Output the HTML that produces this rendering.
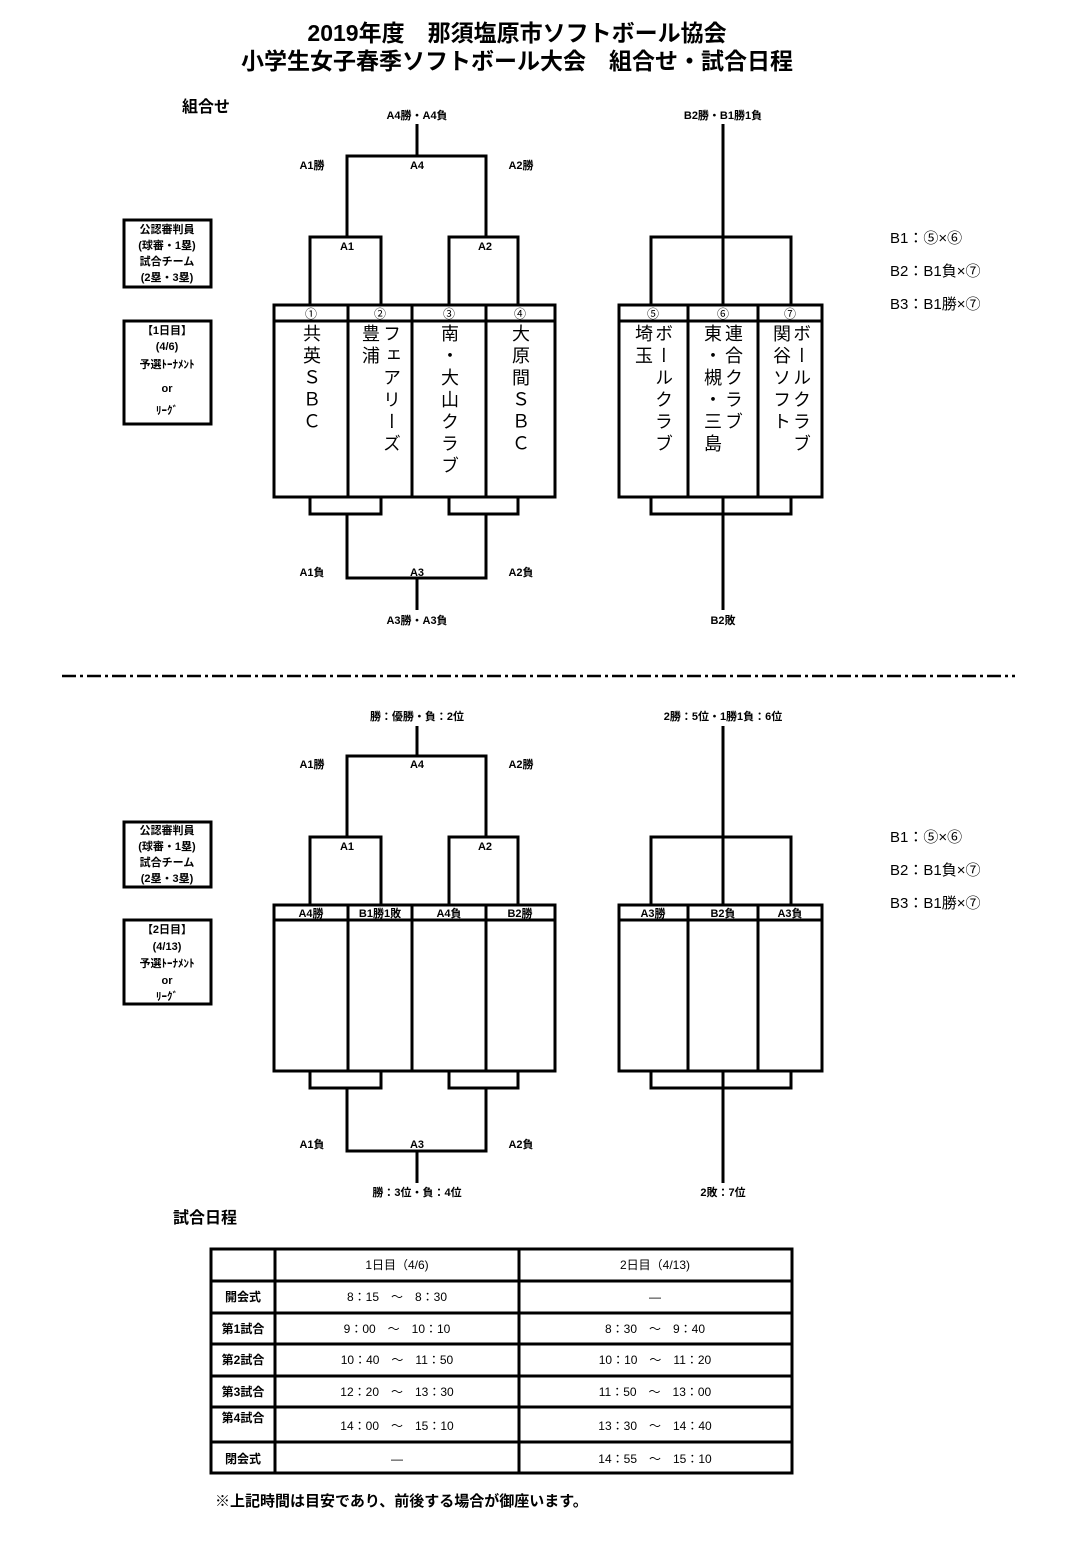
<!DOCTYPE html>
<html><head><meta charset="utf-8"><style>
body{margin:0;width:1080px;height:1547px;background:#fff;position:relative;overflow:hidden;font-family:"Liberation Sans","Noto Sans CJK JP",sans-serif;color:#000}
svg{position:absolute;left:0;top:0}
.v{position:absolute;writing-mode:vertical-rl;text-orientation:upright;font-size:18px;letter-spacing:4px;line-height:20px;font-family:"Liberation Sans","Noto Sans CJK JP",sans-serif}
</style></head><body>
<svg width="1080" height="1547" viewBox="0 0 1080 1547" font-family="Liberation Sans, Noto Sans CJK JP, sans-serif">
<g font-size="23" text-anchor="middle" font-weight="bold">
<text x="517" y="41">2019年度　那須塩原市ソフトボール協会</text>
<text x="517" y="69">小学生女子春季ソフトボール大会　組合せ・試合日程</text>
</g>
<text x="182" y="112" font-size="16" font-weight="bold">組合せ</text>
<text x="173" y="1223" font-size="16" font-weight="bold">試合日程</text>

<g stroke="#000" stroke-width="3" fill="none">
<path d="M417 124V156M347 237V156H486V237M310 305V237H381V305M449 305V237H518V305"/>
<rect x="274" y="305" width="281" height="192"/>
<path d="M274 321H555M348 305V497M412 305V497M486 305V497"/>
<path d="M310 497V514H381V497M449 497V514H518V497M347 514V578H486V514M417 578V610"/>
<path d="M723 124V305M651 305V237H791V305M723 497V610M651 497V514H791V497"/>
<rect x="619" y="305" width="203" height="192"/>
<path d="M619 321H822M688 305V497M758 305V497"/>
<rect x="124" y="220" width="87" height="67"/>
<rect x="124" y="321" width="87" height="103"/>
<rect x="124" y="822" width="87" height="65"/>
<rect x="124" y="920" width="87" height="84"/>
<path d="M417 726V756M347 837V756H486V837M310 905V837H381V905M449 905V837H518V905"/>
<rect x="274" y="905" width="281" height="166"/>
<path d="M274 920H555M348 905V1071M412 905V1071M486 905V1071"/>
<path d="M310 1071V1088H381V1071M449 1071V1088H518V1071M347 1088V1151H486V1088M417 1151V1183"/>
<path d="M723 726V905M651 905V837H791V905M723 1071V1183M651 1071V1088H791V1071"/>
<rect x="619" y="905" width="203" height="166"/>
<path d="M619 920H822M688 905V1071M758 905V1071"/>
<rect x="211" y="1249" width="581" height="224"/>
<path d="M275 1249V1473M519 1249V1473M211 1281H792M211 1313H792M211 1344H792M211 1376H792M211 1407H792M211 1442H792"/>
</g>
<path d="M62 676H1015" stroke="#000" stroke-width="2.5" stroke-dasharray="14 4 3 4"/>

<g font-size="11" text-anchor="middle" font-weight="bold">
<text x="417" y="119">A4勝・A4負</text><text x="723" y="119">B2勝・B1勝1負</text>
<text x="312" y="169">A1勝</text><text x="417" y="169">A4</text><text x="521" y="169">A2勝</text>
<text x="347" y="250">A1</text><text x="485" y="250">A2</text>
<text x="312" y="576">A1負</text><text x="417" y="576">A3</text><text x="521" y="576">A2負</text>
<text x="417" y="624">A3勝・A3負</text><text x="723" y="624">B2敗</text>
<text x="417" y="720">勝：優勝・負：2位</text><text x="723" y="720">2勝：5位・1勝1負：6位</text>
<text x="312" y="768">A1勝</text><text x="417" y="768">A4</text><text x="521" y="768">A2勝</text>
<text x="347" y="850">A1</text><text x="485" y="850">A2</text>
<text x="312" y="1148">A1負</text><text x="417" y="1148">A3</text><text x="521" y="1148">A2負</text>
<text x="417" y="1196">勝：3位・負：4位</text><text x="723" y="1196">2敗：7位</text>
<g font-size="12" font-weight="normal"><text x="311" y="318">①</text><text x="380" y="318">②</text><text x="449" y="318">③</text><text x="520" y="318">④</text>
<text x="653" y="318">⑤</text><text x="723" y="318">⑥</text><text x="790" y="318">⑦</text></g>
<text x="311" y="917">A4勝</text><text x="380" y="917">B1勝1敗</text><text x="449" y="917">A4負</text><text x="520" y="917">B2勝</text>
<text x="653" y="917">A3勝</text><text x="723" y="917">B2負</text><text x="790" y="917">A3負</text>
<text x="167" y="233">公認審判員</text><text x="167" y="249">(球審・1塁)</text><text x="167" y="265">試合チーム</text><text x="167" y="281">(2塁・3塁)</text>
<text x="167" y="334">【1日目】</text><text x="167" y="350">(4/6)</text><text x="167" y="368">予選ﾄｰﾅﾒﾝﾄ</text><text x="167" y="392">or</text><text x="167" y="414">ﾘｰｸﾞ</text>
<text x="167" y="834">公認審判員</text><text x="167" y="850">(球審・1塁)</text><text x="167" y="866">試合チーム</text><text x="167" y="882">(2塁・3塁)</text>
<text x="167" y="933">【2日目】</text><text x="167" y="950">(4/13)</text><text x="167" y="967">予選ﾄｰﾅﾒﾝﾄ</text><text x="167" y="984">or</text><text x="167" y="1000">ﾘｰｸﾞ</text>
</g>
<g font-size="15">
<text x="890" y="243">B1：⑤×⑥</text><text x="890" y="276">B2：B1負×⑦</text><text x="890" y="309">B3：B1勝×⑦</text>
<text x="890" y="842">B1：⑤×⑥</text><text x="890" y="875">B2：B1負×⑦</text><text x="890" y="908">B3：B1勝×⑦</text>
</g>
<g font-size="12" text-anchor="middle">
<text x="397" y="1269">1日目（4/6)</text><text x="655" y="1269">2日目（4/13)</text>
<g font-weight="bold"><text x="243" y="1301">開会式</text><text x="243" y="1333">第1試合</text><text x="243" y="1364">第2試合</text><text x="243" y="1396">第3試合</text><text x="243" y="1422">第4試合</text><text x="243" y="1463">閉会式</text></g>
<text x="397" y="1301">8：15　～　8：30</text><text x="655" y="1301">―</text>
<text x="397" y="1333">9：00　～　10：10</text><text x="655" y="1333">8：30　～　9：40</text>
<text x="397" y="1364">10：40　～　11：50</text><text x="655" y="1364">10：10　～　11：20</text>
<text x="397" y="1396">12：20　～　13：30</text><text x="655" y="1396">11：50　～　13：00</text>
<text x="397" y="1430">14：00　～　15：10</text><text x="655" y="1430">13：30　～　14：40</text>
<text x="397" y="1463">―</text><text x="655" y="1463">14：55　～　15：10</text>
</g>
<text x="215" y="1506" font-size="15" font-weight="bold">※上記時間は目安であり、前後する場合が御座います。</text>
</svg>
<div class="v" style="left:301px;top:324px">共英ＳＢＣ</div>
<div class="v" style="left:360px;top:324px">豊浦</div>
<div class="v" style="left:381px;top:324px">フェアリーズ</div>
<div class="v" style="left:439px;top:324px">南・大山クラブ</div>
<div class="v" style="left:510px;top:324px">大原間ＳＢＣ</div>
<div class="v" style="left:633px;top:324px">埼玉</div>
<div class="v" style="left:653px;top:324px">ボールクラブ</div>
<div class="v" style="left:702px;top:324px">東・槻・三島</div>
<div class="v" style="left:723px;top:324px">連合クラブ</div>
<div class="v" style="left:771px;top:324px">関谷ソフト</div>
<div class="v" style="left:791px;top:324px">ボールクラブ</div>
</body></html>
